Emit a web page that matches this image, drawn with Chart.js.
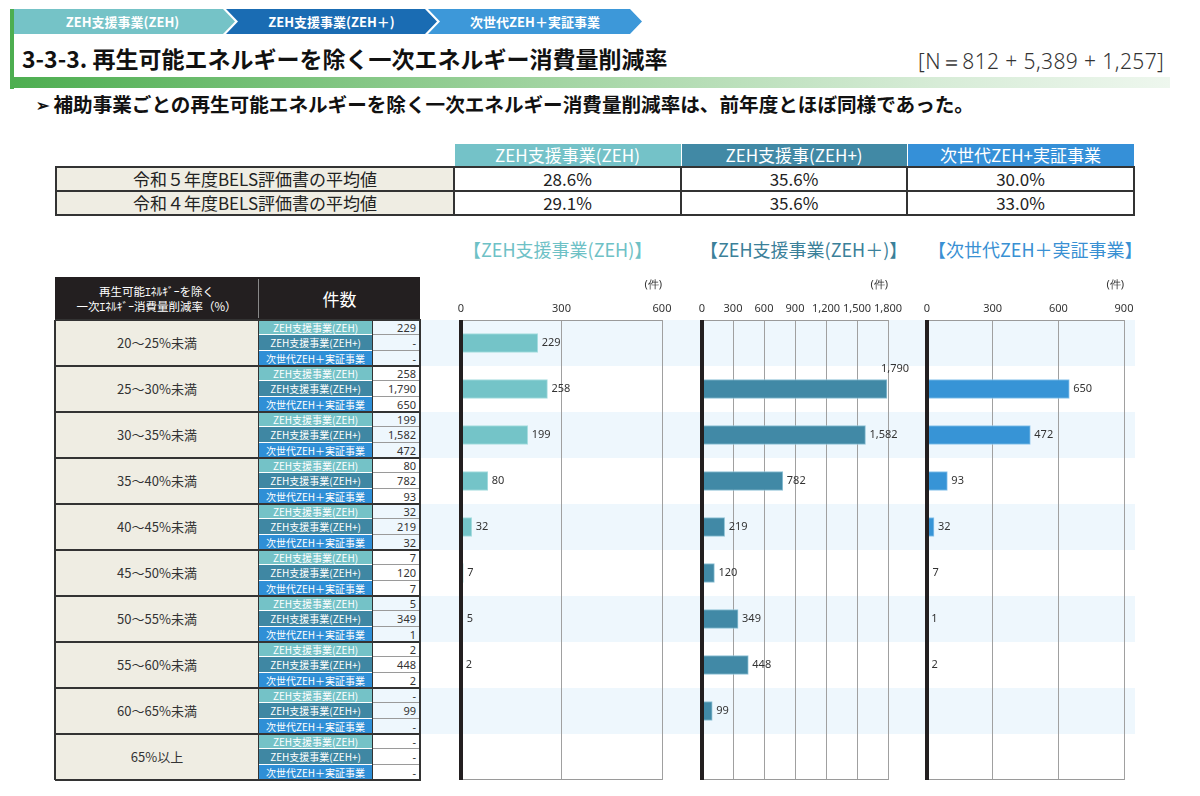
<!DOCTYPE html>
<html><head><meta charset="utf-8">
<script src="https://cdn.jsdelivr.net/npm/chart.js@4.4.1/dist/chart.umd.min.js"></script>
<style>
body{margin:0;width:1200px;height:796px;background:#fff;position:relative;overflow:hidden;font-family:"Noto Sans CJK JP","Noto Sans",sans-serif;color:#222}
.abs{position:absolute}
.tab{position:absolute;top:9px;height:25px;color:#fff;font-weight:bold;font-size:13px;line-height:25px;text-align:center}
#top{position:absolute;left:55px;top:143px;border-collapse:collapse;table-layout:fixed;font-size:17px}
#top td{height:22px;padding:0;text-align:center;line-height:22px;border:2px solid #333}
#top tr.h td{color:#fff;border:1px solid #fff;border-bottom:2px solid #333}
#top td.e{border:none;background:none}
#top td.lab{background:#efede3}
.ct{position:absolute;top:236px;font-size:18px;white-space:nowrap}
canvas{position:absolute}
.cell{position:absolute;box-sizing:border-box;white-space:nowrap;overflow:hidden}
</style></head>
<body>
<div class="tab" style="left:10px;width:225px;background:#75c3c7;clip-path:polygon(0 0,213px 0,225px 50%,213px 100%,0 100%)">ZEH支援事業(ZEH)</div>
<div class="tab" style="left:226px;width:211px;background:#1a6cb3;clip-path:polygon(0 0,199px 0,211px 50%,199px 100%,0 100%,12px 50%)">ZEH支援事業(ZEH＋)</div>
<div class="tab" style="left:428px;width:214px;background:#3d98d9;clip-path:polygon(0 0,202px 0,214px 50%,202px 100%,0 100%,12px 50%)">次世代ZEH＋実証事業</div>
<div class="abs" style="left:10px;top:9px;width:4px;height:80px;background:#4dae50"></div>
<div class="abs" style="left:10px;top:77px;width:1160px;height:11px;background:linear-gradient(to right,#4dae50,#9fd39f 45%,#d7ecd7 80%,#eef7ee)"></div>
<div class="abs" style="left:22px;top:42px;font-size:23px;font-weight:bold;color:#111;white-space:nowrap;line-height:32px">3-3-3. 再生可能エネルギーを除く一次エネルギー消費量削減率</div>
<div class="abs" style="left:918px;top:47px;font-size:21px;color:#333;white-space:nowrap;font-family:'Noto Sans',sans-serif;font-weight:300;line-height:28px;letter-spacing:0.4px">[N＝812 + 5,389 + 1,257]</div>
<div class="abs" style="left:36px;top:90px;font-size:19.6px;font-weight:bold;color:#111;white-space:nowrap;line-height:28px"><span style="font-size:16px;vertical-align:1px">➢</span> 補助事業ごとの再生可能エネルギーを除く一次エネルギー消費量削減率は、前年度とほぼ同様であった。</div>
<table id="top"></table>
<div class="ct" style="left:463px;color:#6ec1c6">【ZEH支援事業(ZEH)】</div>
<div class="ct" style="left:700px;color:#3b8099">【ZEH支援事業(ZEH＋)】</div>
<div class="ct" style="left:928px;color:#3990d3">【次世代ZEH＋実証事業】</div>
<div id="bands"></div>
<div id="left"></div>
<canvas id="c1" width="240" height="515" style="left:440px;top:270px"></canvas>
<canvas id="c2" width="245" height="515" style="left:680px;top:270px"></canvas>
<canvas id="c3" width="260" height="515" style="left:905px;top:270px"></canvas>
<script>
// ---- data ----
const programs = ["ZEH支援事業(ZEH)", "ZEH支援事(ZEH+)", "次世代ZEH+実証事業"];
const avgLabels = ["令和５年度BELS評価書の平均値", "令和４年度BELS評価書の平均値"];
const avgR5 = [28.6, 35.6, 30.0];
const avgR4 = [29.1, 35.6, 33.0];
const categories = ["20～25%未満","25～30%未満","30～35%未満","35～40%未満","40～45%未満","45～50%未満","50～55%未満","55～60%未満","60～65%未満","65%以上"];
const subLabels = ["ZEH支援事業(ZEH)", "ZEH支援事業(ZEH+)", "次世代ZEH＋実証事業"];
const zeh     = [229, 258, 199, 80, 32, 7, 5, 2, null, null];
const zehPlus = [null, 1790, 1582, 782, 219, 120, 349, 448, 99, null];
const nextGen = [null, 650, 472, 93, 32, 7, 1, 2, null, null];
const unitLabel = "(件)";

// ---- top table ----
const hdrColors = ["#74c2c8", "#4189a5", "#3590d8"];
const fmtPct = v => v.toFixed(1) + "%";
(function(){
  const t = document.getElementById('top');
  let html = '<colgroup><col style="width:398px"><col style="width:227px"><col style="width:226px"><col style="width:227px"></colgroup>';
  html += '<tr class="h"><td class="e"></td>' + programs.map((p,i)=>`<td style="background:${hdrColors[i]}">${p}</td>`).join('') + '</tr>';
  [avgR5, avgR4].forEach((row, r) => {
    html += `<tr><td class="lab">${avgLabels[r]}</td>` + row.map(v=>`<td>${fmtPct(v)}</td>`).join('') + '</tr>';
  });
  t.innerHTML = html;
})();

// ---- left table & bands ----
const TOP = 320, GH = 46;
const subColors = ["#74c2c7", "#3f87a3", "#2f8fd6"];
const series = [zeh, zehPlus, nextGen];
(function(){
  const b = document.getElementById('bands');
  let bh = '';
  categories.forEach((c,k)=>{ if(k%2===0) bh += `<div class="abs" style="left:373px;width:762px;top:${TOP+GH*k}px;height:${GH}px;background:#eef7fd"></div>`; });
  b.innerHTML = bh;
  const L = document.getElementById('left');
  let h = '';
  h += `<div class="cell" style="left:55px;top:277px;width:365px;height:43px;background:#231f20"></div>`;
  h += `<div class="cell" style="left:55px;top:279px;width:203px;height:40px;color:#fff;font-size:11.5px;line-height:15px;text-align:center;padding-top:5px">再生可能ｴﾈﾙｷﾞｰを除く<br>一次ｴﾈﾙｷﾞｰ消費量削減率（%）</div>`;
  h += `<div class="cell" style="left:258px;top:279px;width:1px;height:39px;background:#888"></div>`;
  h += `<div class="cell" style="left:259px;top:277px;width:161px;height:43px;color:#fff;font-size:17px;line-height:43px;text-align:center">件数</div>`;
  const sh = GH/3;
  categories.forEach((c,k)=>{
    const y = TOP + GH*k;
    h += `<div class="cell" style="left:55px;top:${y}px;width:204px;height:${GH}px;background:#efede3;font-size:13px;line-height:${GH}px;text-align:center;color:#333">${c}</div>`;
    for(let j=0;j<3;j++){
      const yy = y + sh*j;
      h += `<div class="cell" style="left:259px;top:${yy}px;width:113px;height:${sh}px;background:${subColors[j]};color:#fff;font-size:10px;line-height:${sh}px;text-align:center;border-bottom:1px solid #fff">${subLabels[j]}</div>`;
      const v = series[j][k];
      h += `<div class="cell" style="left:373px;top:${yy}px;width:47px;height:${sh}px;font-size:11px;line-height:${sh}px;text-align:right;padding-right:4px;color:#333;border-bottom:1px solid #9a9a9a;font-family:'Noto Sans',sans-serif">${v==null?'-':v.toLocaleString('en-US')}</div>`;
    }
    h += `<div class="cell" style="left:55px;top:${y-1}px;width:366px;height:2px;background:#333"></div>`;
  });
  const bottom = TOP + GH*categories.length;
  h += `<div class="cell" style="left:55px;top:${bottom-1}px;width:366px;height:2px;background:#333"></div>`;
  h += `<div class="cell" style="left:54px;top:${TOP}px;width:2px;height:${bottom-TOP}px;background:#333"></div>`;
  h += `<div class="cell" style="left:258px;top:${TOP}px;width:1px;height:${bottom-TOP}px;background:#333"></div>`;
  h += `<div class="cell" style="left:372px;top:${TOP}px;width:1px;height:${bottom-TOP}px;background:#333"></div>`;
  h += `<div class="cell" style="left:419px;top:${TOP}px;width:2px;height:${bottom-TOP}px;background:#333"></div>`;
  L.innerHTML = h;
})();

// ---- charts ----
Chart.defaults.font.family = "'Noto Sans', sans-serif";
const framePlugin = {
  id: 'frame',
  afterDatasetsDraw(chart){
    const {ctx, chartArea:a} = chart;
    ctx.save();
    ctx.strokeStyle = '#9a9a9a'; ctx.lineWidth = 1;
    ctx.beginPath();
    ctx.moveTo(a.left, a.top+0.5); ctx.lineTo(a.right, a.top+0.5);
    ctx.moveTo(a.left, a.bottom-0.5); ctx.lineTo(a.right, a.bottom-0.5);
    ctx.stroke();
    ctx.fillStyle = '#231f20';
    ctx.fillRect(a.left-2, a.top, 4, a.bottom-a.top);
    ctx.restore();
  }
};
const labelPlugin = {
  id: 'vlabels',
  afterDatasetsDraw(chart){
    const {ctx, chartArea:a} = chart;
    const ds = chart.data.datasets[0].data;
    ctx.save();
    ctx.font = "11px 'Noto Sans', sans-serif";
    ctx.fillStyle = '#333';
    ctx.textBaseline = 'middle';
    chart.getDatasetMeta(0).data.forEach((bar, i) => {
      const v = ds[i];
      if (v == null) return;
      const txt = v.toLocaleString('en-US');
      const w = ctx.measureText(txt).width;
      let x = bar.x + 4, y = bar.y;
      if (x + w > a.right + 12) { x = bar.x - 6; y = bar.y - 20; }
      ctx.fillText(txt, x, y);
    });
    ctx.restore();
  }
};
function makeChart(id, data, max, color, border, pad){
  return new Chart(document.getElementById(id), {
    type: 'bar',
    data: { labels: categories, datasets: [{ data, backgroundColor: color, borderColor: border, borderWidth: 1, borderSkipped: false, barThickness: 19 }] },
    options: {
      indexAxis: 'y', responsive: false, animation: false,
      layout: { padding: pad },
      plugins: { legend: { display: false }, tooltip: { enabled: false } },
      scales: {
        x: {
          position: 'top', min: 0, max: max,
          ticks: { stepSize: 300, autoSkip: false, maxRotation: 0, color: '#333', font: { size: 11 }, padding: 5 },
          grid: { color: '#a0a0a0', drawTicks: false },
          border: { display: false },
          title: { display: true, text: unitLabel, align: 'end', color: '#333', font: { size: 11 }, padding: { top: 8, bottom: 0 } },
          afterFit(s){ s.height = 50; }
        },
        y: { display: false }
      }
    },
    plugins: [framePlugin, labelPlugin]
  });
}
makeChart('c1', zeh, 600, '#74c4c8', '#a8dde0', {left:21, right:18, top:0, bottom:5});
makeChart('c2', zehPlus, 1800, '#4189a6', '#8fc2d6', {left:22, right:37, top:0, bottom:5});
makeChart('c3', nextGen, 900, '#3794d6', '#8cc4ec', {left:22, right:41, top:0, bottom:5});
</script>
</body></html>
